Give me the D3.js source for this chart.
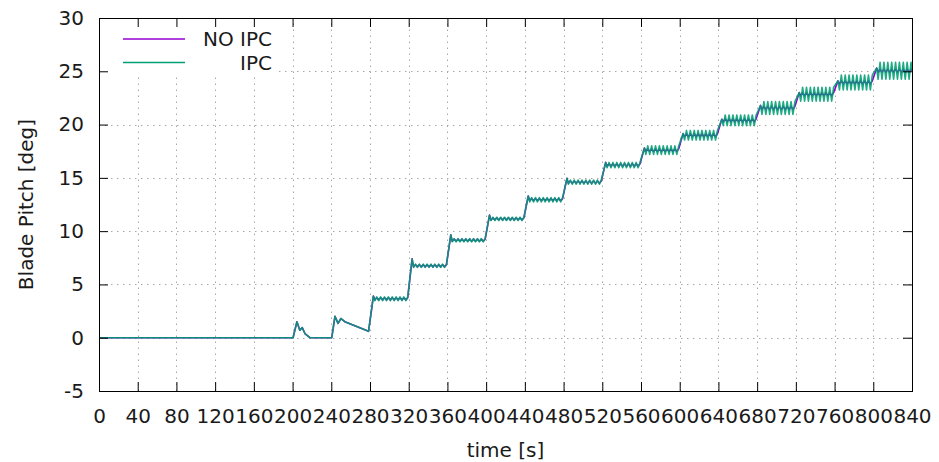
<!DOCTYPE html>
<html>
<head>
<meta charset="utf-8">
<script src="https://cdn.jsdelivr.net/npm/d3@7"></script>
<style>
  body { margin: 0; background: #fff; }
  svg { display: block; font-family: "DejaVu Sans", sans-serif; }
</style>
</head>
<body>
<svg id="chart" width="939" height="462"></svg>
<script>
// axis ticks
const xTicks = d3.range(0, 841, 40);
const yTicks = [-5, 0, 5, 10, 15, 20, 25, 30];

// start of the run (before the regular pitch steps)
const leadTime  = [0, 200.5, 204.5, 207.5, 210, 213, 218, 240.5, 243.8, 247, 250, 254, 278.5];
const leadPitch = [0, 0,     1.5,   0.7,   0.95, 0.35, 0,  0,     2.0,   1.35, 1.8, 1.5, 0.6];

// regular pitch steps: time of step, overshoot, plateau level
const stepTime  = [281, 321, 361, 401, 441, 481, 521, 561, 601, 641, 681, 721, 761, 801];
const stepPeak  = [3.9, 7.4, 9.65, 11.5, 13.3, 14.95, 16.45, 17.8, 19.15, 20.5, 21.8, 23.0, 24.1, 25.3];
const stepLevel = [3.65, 6.75, 9.15, 11.15, 12.95, 14.6, 16.2, 17.6, 19.0, 20.4, 21.55, 22.85, 23.95, 25.05];

// half peak-to-peak of the ripple on each plateau
const rippleNoIPC = [0.1, 0.1, 0.1, 0.1, 0.1, 0.1, 0.12, 0.12, 0.14, 0.14, 0.15, 0.15, 0.15, 0.15];
const rippleIPC   = [0.18, 0.15, 0.15, 0.15, 0.2, 0.2, 0.25, 0.4, 0.45, 0.5, 0.6, 0.65, 0.7, 0.8];
const ripplePeriod = 4;
const tEnd = 840;

const seriesNames = ["NO IPC", "IPC"];
const seriesColors = ["#9400d3", "#009e73"];
const seriesOpacity = [1, 0.88];

function buildSeries(ripple) {
    var pts = leadTime.map((t, i) => [t, leadPitch[i]]);
    stepTime.forEach((t0, k) => {
        var t1 = k + 1 < stepTime.length ? stepTime[k + 1] : tEnd;
        pts.push([t0 + 2.5, stepPeak[k]]);
        var sign = -1;
        for (var t = t0 + 4; t < t1 - 0.5; t += ripplePeriod / 2) {
            pts.push([t, stepLevel[k] + sign * ripple[k]]);
            sign = -sign;
        }
        if (k == stepTime.length - 1) pts.push([tEnd, stepLevel[k]]);
    });
    return pts;
}
const seriesData = [buildSeries(rippleNoIPC), buildSeries(rippleIPC)];

const margin = {left: 99, right: 27, top: 18, bottom: 71};
const W = 939, H = 462;
const svg = d3.select("#chart");

const x = d3.scaleLinear().domain([0, 840]).range([margin.left, W - margin.right]);
const y = d3.scaleLinear().domain([-5, 30]).range([H - margin.bottom, margin.top]);

// grid
const grid = svg.append("g")
    .attr("stroke", "#a8a8a8")
    .attr("stroke-width", 1)
    .attr("stroke-dasharray", "1.5,4.5");
grid.selectAll(".gx").data(xTicks).join("line")
    .attr("x1", d => Math.round(x(d)) + 0.5).attr("x2", d => Math.round(x(d)) + 0.5)
    .attr("y1", y(-5)).attr("y2", y(30));
grid.selectAll(".gy").data(yTicks).join("line")
    .attr("y1", d => Math.round(y(d)) + 0.5).attr("y2", d => Math.round(y(d)) + 0.5)
    .attr("x1", x(0)).attr("x2", x(840));

// legend background (opaque key)
svg.append("rect")
    .attr("x", x(0) + 1).attr("y", y(30) + 1)
    .attr("width", 177).attr("height", 57)
    .attr("fill", "#fff");

// lines
const line = d3.line().x(d => x(d[0])).y(d => y(d[1]));
svg.append("g").selectAll("path").data(seriesData).join("path")
    .attr("d", line)
    .attr("fill", "none")
    .attr("stroke", (d, i) => seriesColors[i])
    .attr("stroke-opacity", (d, i) => seriesOpacity[i])
    .attr("stroke-width", 1.6)
    .attr("stroke-linejoin", "round");

// axes
const fmt = d => String(d);
svg.append("g")
    .attr("transform", `translate(0,${y(-5)})`)
    .call(d3.axisBottom(x).tickValues(xTicks).tickSize(-9).tickPadding(18).tickFormat(fmt));
svg.append("g")
    .attr("transform", `translate(${x(0)},0)`)
    .call(d3.axisLeft(y).tickValues(yTicks).tickSize(-9).tickPadding(15).tickFormat(fmt));
svg.append("g")
    .attr("transform", `translate(0,${y(30)})`)
    .call(d3.axisTop(x).tickValues(xTicks).tickSize(-9).tickFormat(""));
svg.append("g")
    .attr("transform", `translate(${x(840)},0)`)
    .call(d3.axisRight(y).tickValues(yTicks).tickSize(-9).tickFormat(""));

svg.selectAll(".domain").remove();
svg.selectAll(".tick line").attr("stroke", "#000");
svg.selectAll(".tick text")
    .attr("font-size", 20)
    .attr("font-family", "DejaVu Sans")
    .attr("fill", "#1a1a1a");

// border
svg.append("rect")
    .attr("x", x(0) + 0.5).attr("y", y(30) + 0.5)
    .attr("width", x(840) - x(0)).attr("height", y(-5) - y(30))
    .attr("fill", "none").attr("stroke", "#000").attr("stroke-width", 1);

// legend
const legend = svg.append("g").selectAll("g").data(seriesNames).join("g")
    .attr("transform", (d, i) => `translate(0,${39 + i * 23.5})`);
legend.append("line")
    .attr("x1", 123).attr("x2", 185)
    .attr("stroke", (d, i) => seriesColors[i])
    .attr("stroke-width", 1.4);
legend.append("text")
    .attr("x", 272).attr("dy", "0.36em")
    .attr("text-anchor", "end")
    .attr("font-size", 20)
    .attr("fill", "#1a1a1a")
    .text(d => d);

// axis titles
svg.append("text")
    .attr("x", (x(0) + x(840)) / 2).attr("y", 457)
    .attr("text-anchor", "middle")
    .attr("font-size", 20)
    .attr("fill", "#1a1a1a")
    .text("time [s]");
svg.append("text")
    .attr("transform", `translate(33,${(y(-5) + y(30)) / 2}) rotate(-90)`)
    .attr("text-anchor", "middle")
    .attr("font-size", 20)
    .attr("fill", "#1a1a1a")
    .text("Blade Pitch [deg]");
</script>
</body>
</html>
